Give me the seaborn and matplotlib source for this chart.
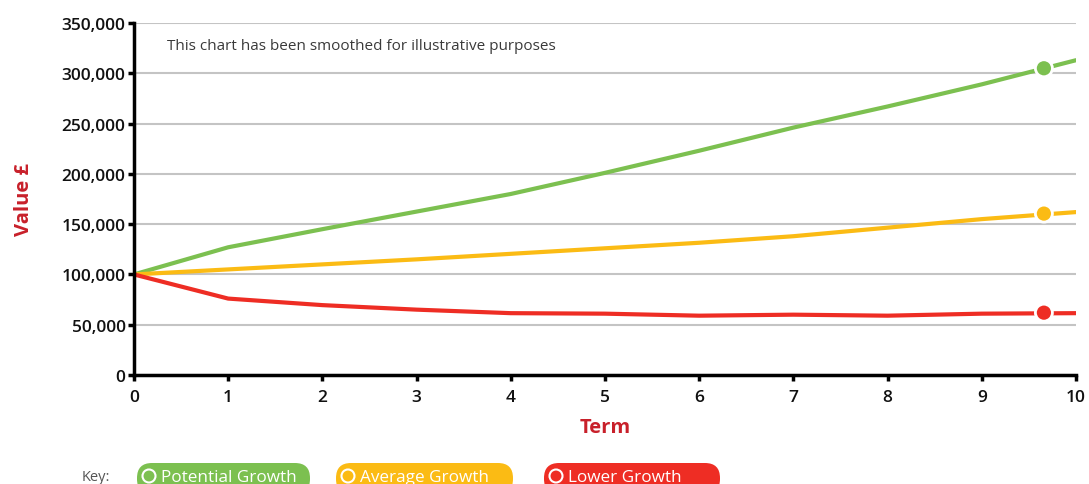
import numpy as np
import pandas as pd
import matplotlib
matplotlib.use("Agg")
import matplotlib.pyplot as plt
from matplotlib.patches import FancyBboxPatch, Circle
from matplotlib.transforms import IdentityTransform
import matplotlib.ticker as mticker
import seaborn as sns

# Projected fund values over the term (smoothed)
term = [0, 1, 2, 3, 4, 5, 6, 7, 8, 9, 10]
potential = [100000, 127000, 145000, 162500, 180000, 201000, 223000, 246000, 267000, 289000, 313000]
average = [100000, 105000, 110000, 115000, 120500, 126000, 131500, 138000, 146500, 155000, 162000]
lower = [100000, 76000, 69500, 65000, 61500, 61000, 59000, 60000, 59000, 61000, 61500]

series_names = ["Potential Growth", "Average Growth", "Lower Growth"]
series_colors = ["#7cc050", "#fbbb14", "#ee2d24"]

# Highlighted point near the end of each projection
marker_term = [9.66, 9.66, 9.66]
marker_values = [305000, 160500, 62000]

y_ticks = [0, 50000, 100000, 150000, 200000, 250000, 300000, 350000]
x_ticks = term

df = pd.DataFrame({
    "Term": term * 3,
    "Value": potential + average + lower,
    "Series": [s for s in series_names for _ in term],
})
markers_df = pd.DataFrame({"Term": marker_term, "Value": marker_values, "Series": series_names})

sns.set_theme(style="white")
plt.rcParams["font.family"] = ["Open Sans", "DejaVu Sans"]

DPI = 100
fig = plt.figure(figsize=(10.89, 4.85), dpi=DPI)
ax = fig.add_axes([0.123, 0.2247, 0.865, 0.7258])

palette = dict(zip(series_names, series_colors))
sns.lineplot(data=df, x="Term", y="Value", hue="Series", palette=palette,
             linewidth=3.0, ax=ax, legend=False, zorder=3)
sns.scatterplot(data=markers_df, x="Term", y="Value", hue="Series", palette=palette,
                s=150, edgecolor="white", linewidth=2.0, ax=ax, legend=False, zorder=4)

ax.set_xlim(0, 10)
ax.set_ylim(0, 350000)
ax.set_xticks(x_ticks)
ax.set_yticks(y_ticks)
ax.yaxis.set_major_formatter(mticker.FuncFormatter(lambda v, p: f"{int(v):,}"))
ax.grid(axis="y", color="#c4c4c4", linewidth=1.5, zorder=0)
ax.grid(axis="x", visible=False)

for side in ["top", "right"]:
    ax.spines[side].set_visible(False)
for side in ["left", "bottom"]:
    ax.spines[side].set_color("black")
    ax.spines[side].set_linewidth(2.5)
    ax.spines[side].set_zorder(5)

ax.tick_params(axis="both", which="major", direction="out", length=4, width=2.5,
               color="black", labelsize=12.5, labelcolor="#111111", pad=2)
ax.tick_params(axis="x", bottom=True, pad=6)
ax.tick_params(axis="y", left=True)
for lbl in ax.get_xticklabels() + ax.get_yticklabels():
    lbl.set_fontweight("semibold")

ax.set_xlabel("Term", color="#c8202a", fontsize=14.5, fontweight="bold", labelpad=9)
ax.set_ylabel("Value £", color="#c8202a", fontsize=14.5, fontweight="bold", labelpad=20)

ax.text(0.035, 0.935, "This chart has been smoothed for illustrative purposes",
        transform=ax.transAxes, fontsize=11, color="#3a3a3a", va="center", ha="left")

# Key of coloured pills along the bottom edge (laid out in pixels)
W, H = 1089.0, 485.0
fig.text(82 / W, 1 - 478 / H, "Key:", fontsize=10.5, color="#555555", va="center", ha="left")
pills = [(137, 310), (336, 513), (544, 720)]
pill_top = 464
pix = IdentityTransform()
for (x0, x1), name, color in zip(pills, series_names, series_colors):
    top = H - pill_top
    box = FancyBboxPatch((x0, -10), x1 - x0, top + 10,
                         boxstyle="round,pad=0,rounding_size=15",
                         transform=pix, facecolor=color, edgecolor="none")
    fig.add_artist(box)
    ring = Circle((x0 + 12, H - 477), 6.5, transform=pix,
                  facecolor="none", edgecolor="white", linewidth=1.5)
    fig.add_artist(ring)
    fig.text((x0 + 24) / W, 1 - 478 / H, name, fontsize=12.3, color="white",
             va="center", ha="left")

fig.savefig("out.png", dpi=DPI)
